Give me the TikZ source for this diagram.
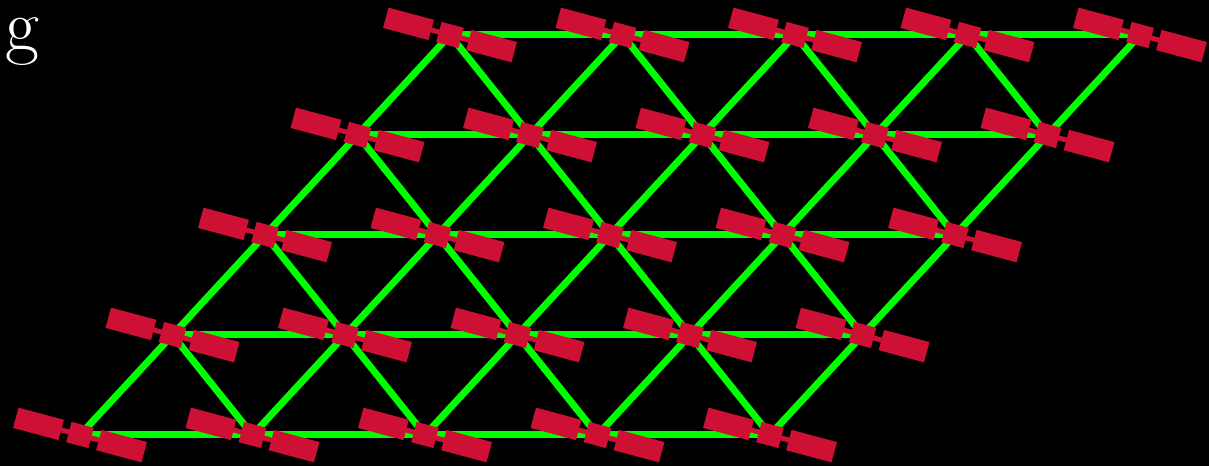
\documentclass[tikz,border=0pt]{standalone}
\usepackage{fontspec}
\usetikzlibrary{calc}
\definecolor{satred}{RGB}{206,16,52}
\definecolor{linkgreen}{RGB}{0,255,0}

\begin{document}
\begin{tikzpicture}[x=0.02cm, y=0.02cm,
  link/.style={draw=linkgreen, line width=0.14cm},
  panel/.style={rectangle, fill=satred, minimum width=0.94cm, minimum height=0.42cm,
                inner sep=0pt, rotate=-15},
  body/.style={rectangle, fill=satred, minimum width=0.46cm, minimum height=0.42cm,
               inner sep=0pt, rotate=-15},
  bar/.style={rectangle, fill=satred, minimum width=1.5cm, minimum height=0.1cm,
              inner sep=0pt, rotate=-15},
]
  \fill[black] (0,0) rectangle (1209,466);
  \useasboundingbox (0,0) rectangle (1209,466);
  \node[text=white, font=\fontsize{42}{48}\selectfont, anchor=base west, inner sep=0pt]
    (label) at (5,415) {g};

  % lattice points
  \foreach \r in {0,...,4}
    \foreach \c in {0,...,4}
      \coordinate (v\r\c) at ({80+172.5*\c+92.5*\r}, {31+100*\r});

  % links
  \foreach \r in {0,...,4}
    \foreach \c in {0,...,3} {
      \pgfmathtruncatemacro{\cn}{\c+1}
      \draw[link] (v\r\c) -- (v\r\cn);
    }
  \foreach \r in {0,...,3}
    \foreach \c in {0,...,4} {
      \pgfmathtruncatemacro{\rn}{\r+1}
      \draw[link] (v\r\c) -- (v\rn\c);
    }
  \foreach \r in {0,...,3}
    \foreach \c in {0,...,3} {
      \pgfmathtruncatemacro{\rn}{\r+1}
      \pgfmathtruncatemacro{\cn}{\c+1}
      \draw[link] (v\rn\c) -- (v\r\cn);
    }

  % satellites
  \foreach \r in {0,...,4}
    \foreach \c in {0,...,4} {
      \node[bar]   (bar\r\c) at (v\r\c) {};
      \node[body]  (sat\r\c) at (v\r\c) {};
      \node[panel] (pl\r\c)  at ($(v\r\c)+(165:43)$) {};
      \node[panel] (pr\r\c)  at ($(v\r\c)+(-15:43)$) {};
    }
\end{tikzpicture}
\end{document}
